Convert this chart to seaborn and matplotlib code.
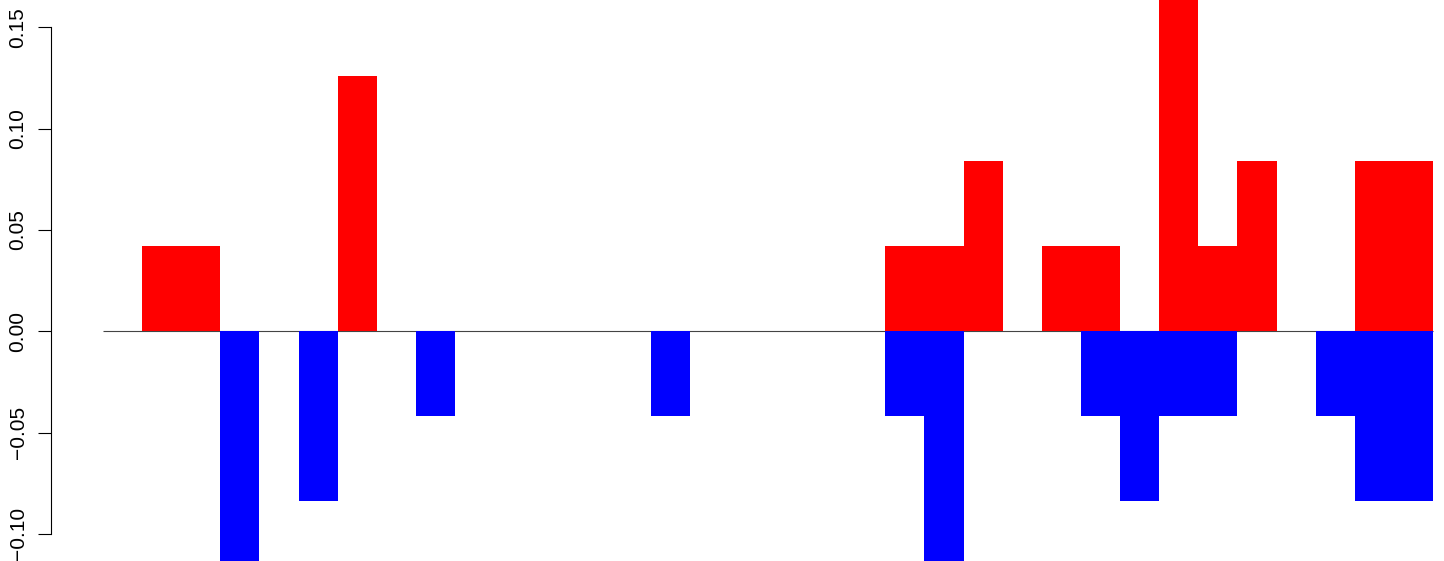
import numpy as np
import pandas as pd
import seaborn as sns
import matplotlib
matplotlib.use('Agg')
import matplotlib.pyplot as plt
from matplotlib.ticker import FuncFormatter

# bar values, 34 slots, step is 0.042
positions = [str(i) for i in range(34)]
gains = [0, 0.042, 0.042, 0, 0, 0, 0.126, 0, 0, 0,
         0, 0, 0, 0, 0, 0, 0, 0, 0, 0,
         0.042, 0.042, 0.084, 0, 0.042, 0.042, 0, 0.168, 0.042, 0.084,
         0, 0, 0.084, 0.084]
losses = [0, 0, 0, -0.126, 0, -0.084, 0, 0, -0.042, 0,
          0, 0, 0, 0, -0.042, 0, 0, 0, 0, 0,
          -0.042, -0.126, 0, 0, 0, -0.042, -0.084, -0.042, -0.042, 0,
          0, -0.042, -0.084, -0.084]
yticks = [-0.10, -0.05, 0.00, 0.05, 0.10, 0.15]

df = pd.DataFrame({'pos': positions, 'gain': gains, 'loss': losses})

plt.rcParams['font.family'] = ['Liberation Sans', 'DejaVu Sans']
fig = plt.figure(figsize=(14.44, 5.61), dpi=100)
ax = fig.add_axes([50.5 / 1444, 0, (1444 - 50.5) / 1444, 1])

sns.barplot(x='pos', y='gain', data=df, order=positions, color='#ff0000',
            saturation=1, width=1, linewidth=0, errorbar=None, ax=ax)
sns.barplot(x='pos', y='loss', data=df, order=positions, color='#0000ff',
            saturation=1, width=1, linewidth=0, errorbar=None, ax=ax)
ax.hlines(0, -0.5, 33.5, color='#444444', lw=0.8, zorder=0.5)

ax.set_xlim(-1.842, 33.78)
ax.set_ylim(-0.1134, 0.1635)
ax.set_xticks([])
ax.set_xlabel('')
ax.set_ylabel('')
for s in ['top', 'right', 'bottom']:
    ax.spines[s].set_visible(False)
ax.spines['left'].set_bounds(-0.10, 0.15)
ax.spines['left'].set_linewidth(0.8)
ax.set_yticks(yticks)
ax.yaxis.set_major_formatter(FuncFormatter(lambda v, p: f'{v:.2f}'.replace('-', '\u2212')))
ax.tick_params(axis='y', length=9.5, width=0.8, pad=7, labelsize=15)
for lab in ax.get_yticklabels():
    lab.set_rotation(90)
    lab.set_va('center')
ax.patch.set_alpha(0)

fig.savefig('out.png', dpi=100)
